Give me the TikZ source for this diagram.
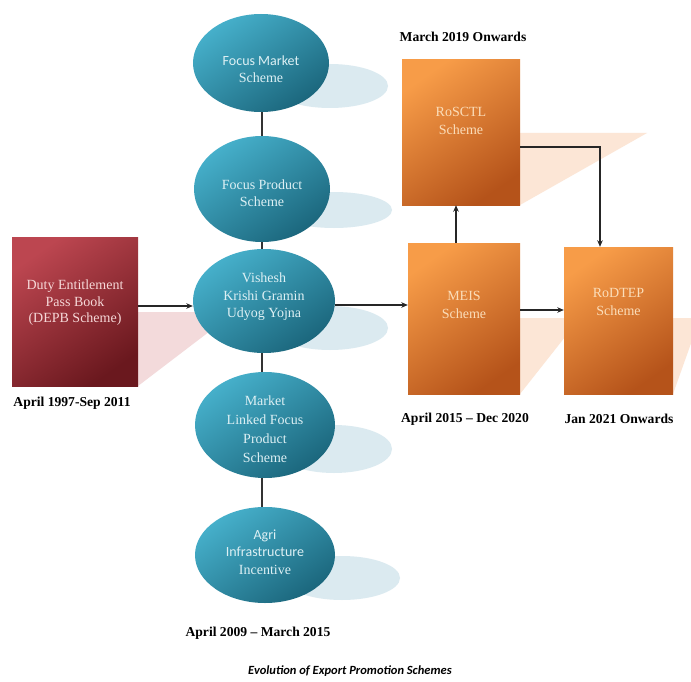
\documentclass[tikz,border=0pt]{standalone}
\usepackage{fontspec}
\setmainfont{Liberation Serif}
\newfontfamily\calib{Carlito}
\usetikzlibrary{arrows.meta,shapes.geometric,calc}
\definecolor{tealA}{HTML}{46B0CB}
\definecolor{tealB}{HTML}{1B667C}
\definecolor{redA}{HTML}{BC4650}
\definecolor{redB}{HTML}{6A181E}
\definecolor{orA}{HTML}{F79C48}
\definecolor{orB}{HTML}{B5531A}
\definecolor{blueSh}{HTML}{DBEAF0}
\definecolor{pinkSh}{HTML}{F3DADB}
\definecolor{peachSh}{HTML}{FCE6D6}
\definecolor{tealTxt}{HTML}{DDF0F4}
\definecolor{redTxt}{HTML}{F6D8D8}
\definecolor{orTxt}{HTML}{FBDDB9}
\begin{document}
\begin{tikzpicture}[x=1pt,y=-1pt,
  ell/.style={ellipse, draw=none, top color=tealA, bottom color=tealB, shading angle=35, inner sep=0pt},
  etext/.style={align=center, text=tealTxt, font=\fontsize{14}{17.5}\selectfont, inner sep=0pt},
  redbox/.style={rectangle, draw=none, top color=redA, bottom color=redB, shading angle=35, inner sep=0pt},
  orbox/.style={rectangle, draw=none, top color=orA, bottom color=orB, shading angle=35, inner sep=0pt},
  redtext/.style={align=center, text=redTxt, font=\fontsize{14}{16.5}\selectfont, inner sep=0pt},
  ortext/.style={align=center, text=orTxt, font=\fontsize{14}{17.5}\selectfont, inner sep=0pt},
  datelbl/.style={font=\bfseries\fontsize{13.6}{15}\selectfont, inner sep=0pt},
  capt/.style={font=\calib\bfseries\itshape\fontsize{12.5}{14}\selectfont, inner sep=0pt},
  arr/.style={draw=black!85, line width=1.1pt, -{Stealth[length=6.5pt,width=5.5pt]}},
  conn/.style={draw=black!80, line width=1.1pt}]
\useasboundingbox (0,0) rectangle (691,682);
\fill[white] (0,0) rectangle (691,682);
% shadows
\begin{scope}
\clip (0,0) rectangle (691,682);
\fill[pinkSh] (138,312) -- (235,312) -- (138,386) -- cycle;
\fill[peachSh] (520,133) -- (647,133) -- (520,205) -- cycle;
\fill[peachSh] (520,318) -- (580,318) -- (520,394) -- cycle;
\fill[peachSh] (673,318) -- (700,318) -- (673,394) -- cycle;
\fill[blueSh] (330,86) ellipse [x radius=58, y radius=22];
\fill[blueSh] (334,210) ellipse [x radius=58, y radius=18];
\fill[blueSh] (330,328) ellipse [x radius=58, y radius=22];
\fill[blueSh] (334,449) ellipse [x radius=58, y radius=24];
\fill[blueSh] (342,578) ellipse [x radius=58, y radius=22];
\end{scope}
% ellipses
\node[ell, minimum width=136pt, minimum height=98pt] (e1) at (261,63) {};
\node[etext] (e1t) at (261,69) {{\calib Focus Market}\\Scheme};
\node[ell, minimum width=136pt, minimum height=106pt] (e2) at (262,189) {};
\node[etext] (e2t) at (262,193) {Focus Product\\Scheme};
\node[ell, minimum width=142pt, minimum height=104pt] (e3) at (264,301) {};
\node[etext] (e3t) at (264,297) {Vishesh\\Krishi Gramin\\Udyog Yojna};
\node[ell, minimum width=140pt, minimum height=106pt] (e4) at (265,425) {};
\node[etext, font=\fontsize{14}{19}\selectfont] (e4t) at (265,429) {Market\\Linked Focus\\Product\\Scheme};
\node[ell, minimum width=140pt, minimum height=96pt] (e5) at (265,555) {};
\node[etext] (e5t) at (265,552) {{\calib Agri}\\{\calib Infrastructure}\\Incentive};
% boxes
\node[redbox, minimum width=126pt, minimum height=149pt] (depb) at (75,311.5) {};
\node[redtext] (depbt) at (75,303) {Duty Entitlement\\Pass Book\\(DEPB Scheme)};
\node[orbox, minimum width=118pt, minimum height=145pt] (rosctl) at (461,132.5) {};
\node[ortext] (rosctlt) at (461,121) {RoSCTL\\Scheme};
\node[orbox, minimum width=112pt, minimum height=151pt] (meis) at (464,318.5) {};
\node[ortext] (meist) at (464,305) {MEIS\\Scheme};
\node[orbox, minimum width=109pt, minimum height=147pt] (rodtep) at (618.5,320.5) {};
\node[ortext] (rodtept) at (618.5,302) {RoDTEP\\Scheme};
% connectors
\draw[conn] (e1.south -| e2.north) -- (e2.north);
\draw[conn] (e2.south) -- (e2.south |- e3.north);
\draw[conn] (e3.south -| e2.south) -- (e4.north -| e2.south);
\draw[conn] (e4.south -| e2.south) -- (e5.north -| e2.south);
\draw[arr] ([yshift=5.5pt]depb.east) -- ([yshift=5.5pt]depb.east -| e3.west);
\draw[arr] ([yshift=-4pt]e3.east) -- ([yshift=-4pt]e3.east -| meis.west);
\draw[arr] ([yshift=8.5pt]meis.east) -- ([yshift=8.5pt]meis.east -| rodtep.west);
\draw[arr] ([xshift=-8pt]meis.north) -- ([xshift=-8pt]meis.north |- rosctl.south);
\draw[arr] ([yshift=-14.5pt]rosctl.east) -| ([xshift=-18.5pt]rodtep.north);
% labels
\node[datelbl] (d1) at (72,403) {April 1997-Sep 2011};
\node[datelbl] (d2) at (463,37) {March 2019 Onwards};
\node[datelbl] (d3) at (465,419) {April 2015 – Dec 2020};
\node[datelbl] (d4) at (619,419) {Jan 2021 Onwards};
\node[datelbl] (d5) at (258,633) {April 2009 – March 2015};
\node[capt] (cap) at (350,671) {Evolution of Export Promotion Schemes};
\end{tikzpicture}
\end{document}
